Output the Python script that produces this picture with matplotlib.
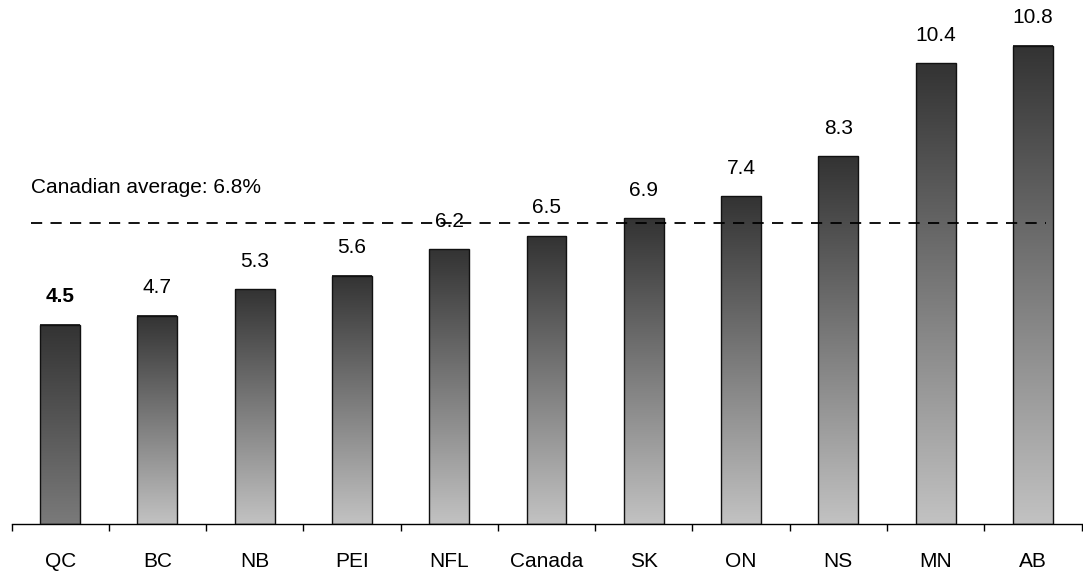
import numpy as np
import matplotlib.pyplot as plt
from matplotlib.colors import LinearSegmentedColormap

plt.rcParams['font.family'] = ['Liberation Sans', 'DejaVu Sans']

provinces = ['QC', 'BC', 'NB', 'PEI', 'NFL', 'Canada', 'SK', 'ON', 'NS', 'MN', 'AB']
rates = [4.5, 4.7, 5.3, 5.6, 6.2, 6.5, 6.9, 7.4, 8.3, 10.4, 10.8]
labels = ['4.5', '4.7', '5.3', '5.6', '6.2', '6.5', '6.9', '7.4', '8.3', '10.4', '10.8']
avg = 6.8

fig = plt.figure(figsize=(10.83, 5.76), dpi=100)
ax = fig.add_axes([11.5 / 1083, 52 / 576, 1070 / 1083, 524 / 576])

light = LinearSegmentedColormap.from_list('bar', ['#c2c2c2', '#333333'])
qc_cmap = LinearSegmentedColormap.from_list('qc', ['#7a7a7a', '#333333'])
grad = np.linspace(0, 1, 256).reshape(-1, 1)

width = 0.41
x = np.arange(len(provinces))
for i, (p, v) in enumerate(zip(provinces, rates)):
    cmap = qc_cmap if p == 'QC' else light
    # vertical gradient fill, then the outline on top
    ax.imshow(grad, extent=[i - width / 2, i + width / 2, 0, v], origin='lower',
              aspect='auto', cmap=cmap, zorder=2)
    ax.bar(i, v, width=width, fill=False, edgecolor='#111111', linewidth=1.0, zorder=3)
    ax.text(i, v + 0.42, labels[i], ha='center', va='bottom', fontsize=15,
            fontweight='bold' if p == 'QC' else 'normal')

# national average
ax.plot([-0.3, 10.14], [avg, avg], linestyle=(0, (6.2, 4.6)), color='black', linewidth=1.3, zorder=4)
ax.text(-0.3, avg + 0.58, 'Canadian average: 6.8%', ha='left', va='bottom', fontsize=15)

ax.set_xlim(-0.5, len(provinces) - 0.5)
ax.set_ylim(0, 11.83)
for s in ['top', 'right', 'left']:
    ax.spines[s].set_visible(False)
ax.spines['bottom'].set_linewidth(1.0)
ax.set_yticks([])
ax.set_xticks(x)
ax.set_xticklabels(provinces, fontsize=15)
ax.tick_params(axis='x', which='major', length=0, pad=20)
ax.set_xticks(np.arange(len(provinces) + 1) - 0.5, minor=True)
ax.tick_params(axis='x', which='minor', length=5, width=1.0)

fig.savefig('out.png', dpi=100)
